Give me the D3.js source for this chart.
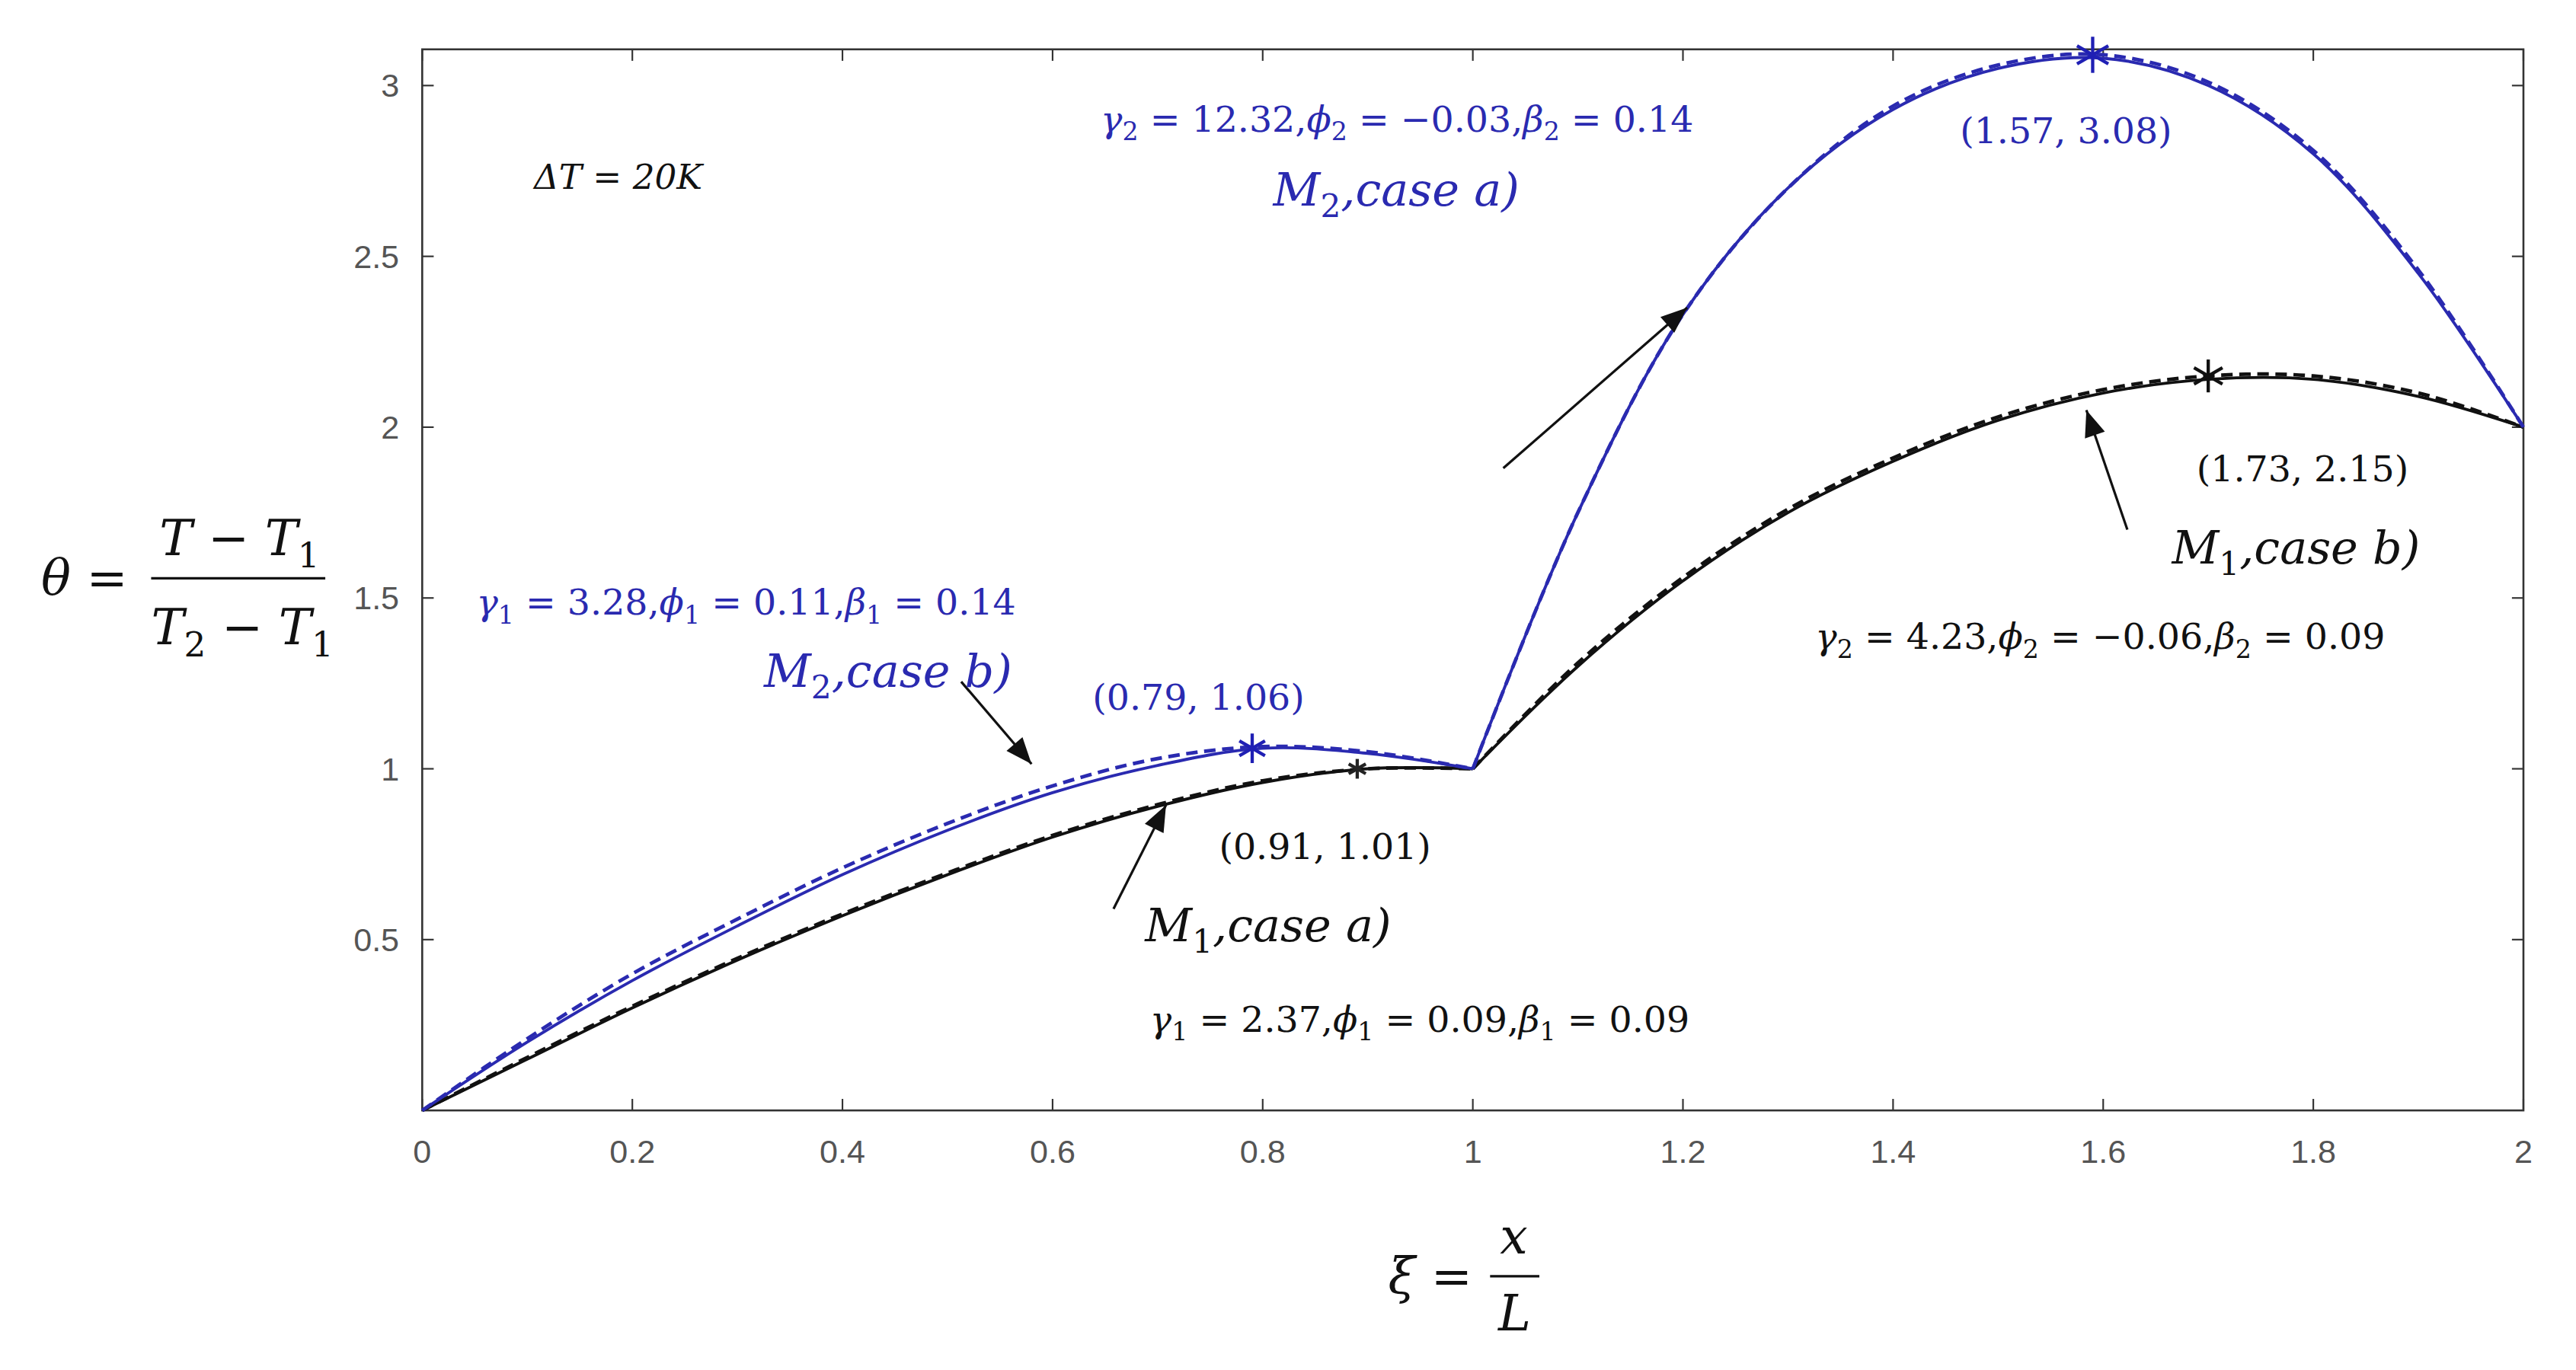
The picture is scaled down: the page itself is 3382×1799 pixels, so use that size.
<!DOCTYPE html>
<html><head><meta charset="utf-8">
<script src="https://cdn.jsdelivr.net/npm/d3@7"></script>
<style>body{margin:0;background:#fff}</style></head>
<body><svg id="c" width="3382" height="1799" viewBox="0 0 1568 834"></svg>
<script>
const xs1=[0,0.1,0.2,0.3,0.4,0.5,0.6,0.7,0.8,0.9,1.0];
const xs2=[1.0,1.1,1.2,1.3,1.4,1.5,1.6,1.7,1.8,1.9,2.0];
const blueA1=[0,0.2,0.38,0.54,0.69,0.82,0.93,1.01,1.06,1.045,1.0];
const blueB1=[0,0.21,0.40,0.56,0.71,0.84,0.95,1.03,1.065,1.05,1.0];
const blackA1=[0,0.15,0.30,0.44,0.57,0.69,0.80,0.89,0.96,1.0,1.0];
const blackB1=[0,0.155,0.305,0.445,0.575,0.695,0.805,0.895,0.965,1.0,1.0];
const blue2=[1.0,1.75,2.33,2.7,2.93,3.05,3.08,3.0,2.8,2.45,2.0];
const blueD2=[1.0,1.75,2.33,2.7,2.94,3.06,3.09,3.01,2.81,2.46,2.0];
const black2=[1.0,1.3,1.55,1.75,1.9,2.02,2.1,2.14,2.14,2.09,2.0];
const blackD2=[1.0,1.31,1.56,1.76,1.91,2.03,2.11,2.15,2.15,2.10,2.0];
const xTicks=[0,0.2,0.4,0.6,0.8,1,1.2,1.4,1.6,1.8,2];
const yTicks=[0.5,1,1.5,2,2.5,3];
const peaks=[{x:0.79,y:1.06,c:"#1f1fb4",r:9},{x:0.89,y:1.0,c:"#222",r:6},{x:1.59,y:3.09,c:"#1f1fb4",r:11},{x:1.7,y:2.15,c:"#111",r:10}];
const arrows=[[1.029,1.88,1.204,2.35],[0.513,1.255,0.58,1.014],[0.658,0.59,0.708,0.894],[1.623,1.70,1.584,2.05]];
const BLUE="#2a2ab0";
const svg=d3.select("#c");
const L=257,R=1536,T=30,B=676;
const x=d3.scaleLinear().domain([0,2]).range([L,R]);
const y=d3.scaleLinear().domain([0,3.106]).range([B,T]);
svg.append("defs").append("marker").attr("id","ah").attr("viewBox","0 0 10 10").attr("refX",10).attr("refY",5)
 .attr("orient","auto").attr("markerUnits","userSpaceOnUse")
 .attr("markerWidth",26).attr("markerHeight",16)
 .append("path").attr("d","M0,1 L10,5 L0,9 Z").attr("fill","#111");
svg.append("rect").attr("x",L).attr("y",T).attr("width",R-L).attr("height",B-T).attr("fill","none").attr("stroke","#333").attr("stroke-width",1.2);
const tk=7, TF="Liberation Sans Narrow, Liberation Sans";
xTicks.forEach(v=>{svg.append("line").attr("x1",x(v)).attr("x2",x(v)).attr("y1",B).attr("y2",B-tk).attr("stroke","#333");
 svg.append("line").attr("x1",x(v)).attr("x2",x(v)).attr("y1",T).attr("y2",T+tk).attr("stroke","#333");
 svg.append("text").attr("x",x(v)).attr("y",B+32).attr("text-anchor","middle").attr("font-family",TF).attr("font-size",20).attr("fill","#555").text(v);});
yTicks.forEach(v=>{svg.append("line").attr("y1",y(v)).attr("y2",y(v)).attr("x1",L).attr("x2",L+tk).attr("stroke","#333");
 svg.append("line").attr("y1",y(v)).attr("y2",y(v)).attr("x1",R).attr("x2",R-tk).attr("stroke","#333");
 svg.append("text").attr("x",L-14).attr("y",y(v)+7).attr("text-anchor","end").attr("font-family",TF).attr("font-size",20).attr("fill","#555").text(v);});
const line=d3.line().x(d=>x(d[0])).y(d=>y(d[1])).curve(d3.curveCatmullRom.alpha(0.5));
function draw(xs,ys,c,dash,w){svg.append("path").attr("d",line(xs.map((v,i)=>[v,ys[i]]))).attr("fill","none").attr("stroke",c).attr("stroke-width",w).attr("stroke-dasharray",dash);}
draw(xs1,blackA1,"#111",null,1.8);draw(xs1,blackB1,"#111","7,4",2.2);
draw(xs2,black2,"#111",null,1.8);draw(xs2,blackD2,"#111","7,4",2.2);
draw(xs1,blueA1,BLUE,null,1.8);draw(xs1,blueB1,BLUE,"7,4",2.2);
draw(xs2,blue2,BLUE,null,1.8);draw(xs2,blueD2,BLUE,"7,4",2.2);
peaks.forEach(p=>{const g=svg.append("g").attr("transform",`translate(${x(p.x)},${y(p.y)})`);
 [0,60,120].forEach(a=>g.append("line").attr("x1",0).attr("y1",-p.r).attr("x2",0).attr("y2",p.r).attr("transform",`rotate(${a})`).attr("stroke",p.c).attr("stroke-width",2));});
arrows.forEach(a=>svg.append("line").attr("x1",x(a[0])).attr("y1",y(a[1])).attr("x2",x(a[2])).attr("y2",y(a[3])).attr("stroke","#111").attr("stroke-width",1.5).attr("marker-end","url(#ah)"));
const MF="DejaVu Serif", NF="DejaVu Serif";
function rich(xp,yp,parts,size,col){const t=svg.append("text").attr("x",xp).attr("y",yp).attr("font-size",size).attr("fill",col);
 parts.forEach(p=>{const s=t.append("tspan").text(p[0]).attr("font-family",p[2]?MF:NF).attr("font-style",p[2]?"italic":"normal");
  if(p[1]){s.attr("font-size",size*0.7).attr("dy",size*0.25);t.append("tspan").text("\u200b").attr("dy",-size*0.25);}});return t;}
function params(g,phi,beta,i){return [["γ",0,1],[i,1],[" = "+g+",",0],["ϕ",0,1],[i,1],[" = "+phi+",",0],["β",0,1],[i,1],[" = "+beta,0]];}
rich(670,80,params("12.32","−0.03","0.14","2"),22,BLUE);
rich(290,374,params("3.28","0.11","0.14","1"),22,BLUE);
rich(1105,395,params("4.23","−0.06","0.09","2"),22,"#111");
rich(700,628,params("2.37","0.09","0.09","1"),22,"#111");
function mlab(xp,yp,i,c,col){rich(xp,yp,[["M",0,1],[i,1],[",case "+c+")",0,1]],28,col);}
mlab(775,125,"2","a",BLUE);mlab(465,418,"2","b",BLUE);mlab(697,573,"1","a","#111");mlab(1322,343,"1","b","#111");
rich(1193,87,[["(1.57, 3.08)",0]],22,BLUE);
rich(665,432,[["(0.79, 1.06)",0]],22,BLUE);
rich(742,523,[["(0.91, 1.01)",0]],22,"#111");
rich(1337,293,[["(1.73, 2.15)",0]],22,"#111");
rich(325,115,[["ΔT",0,1],[" = ",0],["20K",0,1]],21,"#111");
rich(25,362,[["θ",0,1],[" =",0]],30,"#111");
rich(97,338,[["T",0,1],[" − ",0],["T",0,1],["1",1]],30,"#111");
rich(92,392,[["T",0,1],["2",1],[" − ",0],["T",0,1],["1",1]],30,"#111");
svg.append("line").attr("x1",92).attr("x2",198).attr("y1",352).attr("y2",352).attr("stroke","#111").attr("stroke-width",1.5);
rich(845,787,[["ξ",0,1],[" =",0]],30,"#111");
rich(913,763,[["x",0,1]],30,"#111");
rich(912,810,[["L",0,1]],30,"#111");
svg.append("line").attr("x1",907).attr("x2",937).attr("y1",777).attr("y2",777).attr("stroke","#111").attr("stroke-width",1.5);
</script></body></html>
